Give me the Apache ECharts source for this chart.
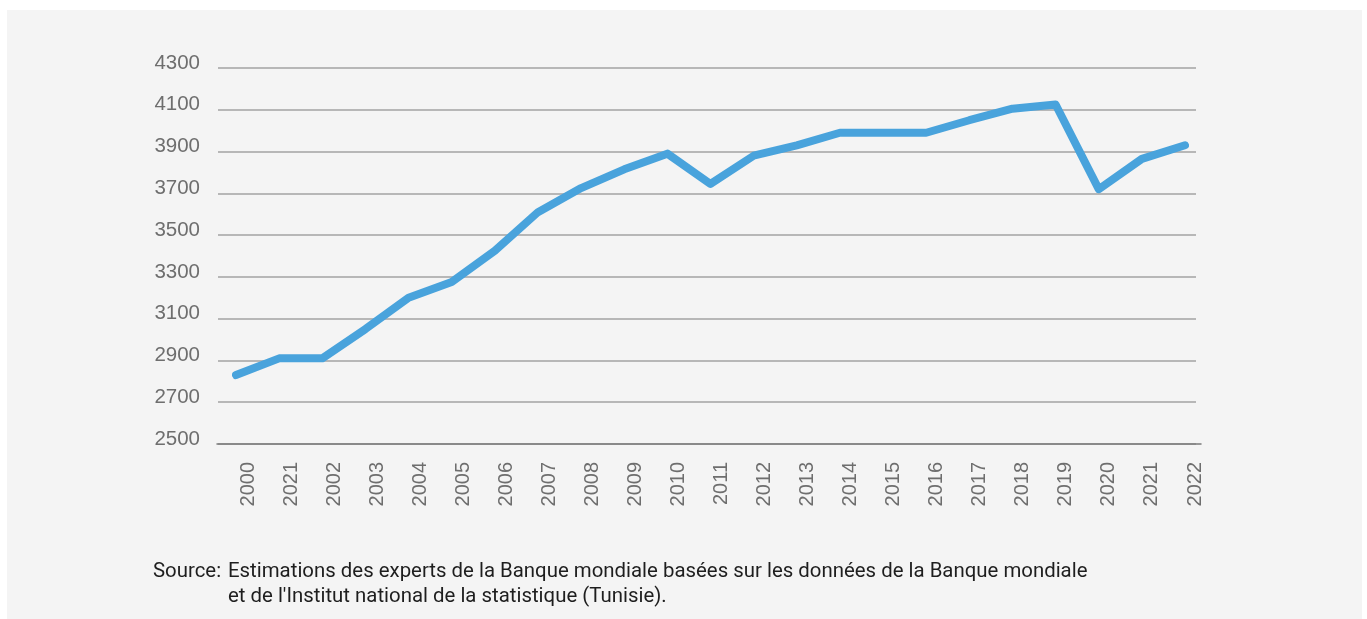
<!DOCTYPE html>
<html>
<head>
<meta charset="utf-8">
<script src="https://cdn.jsdelivr.net/npm/echarts@6/dist/echarts.min.js"></script>
<style>
  html, body { margin: 0; padding: 0; background: #fff; }
  #panel { position: absolute; left: 7px; top: 10px; width: 1355px; height: 609px; background: #f4f4f4; }
  #chart { position: absolute; left: 0; top: 0; width: 1367px; height: 619px; }
</style>
</head>
<body>
<div id="panel"></div>
<div id="chart"></div>
<script>
// years as printed under the axis (the second label reads 2021 in the original)
var yearLabels = ['2000', '2021', '2002', '2003', '2004', '2005', '2006', '2007', '2008', '2009', '2010',
  '2011', '2012', '2013', '2014', '2015', '2016', '2017', '2018', '2019', '2020', '2021', '2022']
// values
var values = [2830, 2910, 2910, 3050, 3200, 3275, 3425, 3610, 3725, 3815, 3890,
  3745, 3880, 3930, 3990, 3990, 3990, 4050, 4105, 4125, 3720, 3865, 3930]
var yMin = 2500
var yMax = 4300
var yStep = 200

var sourceLabel = 'Source:'
var sourceLines = [
  'Estimations des experts de la Banque mondiale basées sur les données de la Banque mondiale',
  'et de l\'Institut national de la statistique (Tunisie).'
]

var myChart = echarts.init(document.getElementById('chart'), null, {renderer: 'canvas'})

var axisFont = 'Liberation Sans'
var textFont = 'Roboto'

var hiddenY = function (idx) {
  return {
    type: 'value', gridIndex: idx, min: yMin, max: yMax, interval: yStep,
    axisLine: {show: false}, axisTick: {show: false}, axisLabel: {show: false}, splitLine: {show: false}
  }
}

var option = {
  backgroundColor: 'transparent',
  animation: false,
  grid: [
    // split lines + y labels
    {left: 218, right: 171, top: 68, bottom: 175},
    // data line
    {left: 236, right: 182, top: 68, bottom: 175},
    // year labels
    {left: 248, right: 172, top: 68, bottom: 175},
    // base line
    {left: 217, right: 166, top: 68, bottom: 175}
  ],
  xAxis: [
    {type: 'value', gridIndex: 0, show: false},
    {type: 'category', gridIndex: 1, boundaryGap: false, data: yearLabels, show: false},
    {
      type: 'category', gridIndex: 2, boundaryGap: false, data: yearLabels,
      axisLine: {show: false}, axisTick: {show: false}, splitLine: {show: false},
      axisLabel: {
        rotate: 90, margin: 18, interval: 0,
        color: '#6e6e6e', fontSize: 20, fontFamily: axisFont
      }
    },
    {
      type: 'value', gridIndex: 3, min: 0, max: 1,
      axisLine: {show: true, lineStyle: {color: '#7a7a7a', width: 1.5}},
      axisTick: {show: false}, axisLabel: {show: false}, splitLine: {show: false}
    }
  ],
  yAxis: [
    {
      type: 'value', gridIndex: 0, min: yMin, max: yMax, interval: yStep,
      axisLine: {show: false}, axisTick: {show: false},
      axisLabel: {
        margin: 18, color: '#6e6e6e', fontSize: 20.5, fontFamily: axisFont,
        verticalAlign: 'bottom', lineHeight: 10,
        formatter: function (v) { return String(v) }
      },
      splitLine: {show: true, lineStyle: {color: '#a3a3a3', width: 1.5}}
    },
    hiddenY(1),
    hiddenY(2),
    {type: 'value', gridIndex: 3, show: false}
  ],
  graphic: [
    {
      type: 'text', left: 153, top: 562,
      style: {text: sourceLabel, fill: '#1e1e1e', font: '20.4px ' + textFont}
    },
    {
      type: 'text', left: 228, top: 562,
      style: {text: sourceLines[0], fill: '#1e1e1e', font: '20.4px ' + textFont}
    },
    {
      type: 'text', left: 228, top: 587,
      style: {text: sourceLines[1], fill: '#1e1e1e', font: '20.4px ' + textFont}
    }
  ],
  series: [
    {
      type: 'line',
      xAxisIndex: 1,
      yAxisIndex: 1,
      data: values,
      showSymbol: false,
      smooth: false,
      lineStyle: {color: '#49a3dc', width: 8, cap: 'round', join: 'round'}
    }
  ]
}
myChart.setOption(option)
</script>
</body>
</html>
